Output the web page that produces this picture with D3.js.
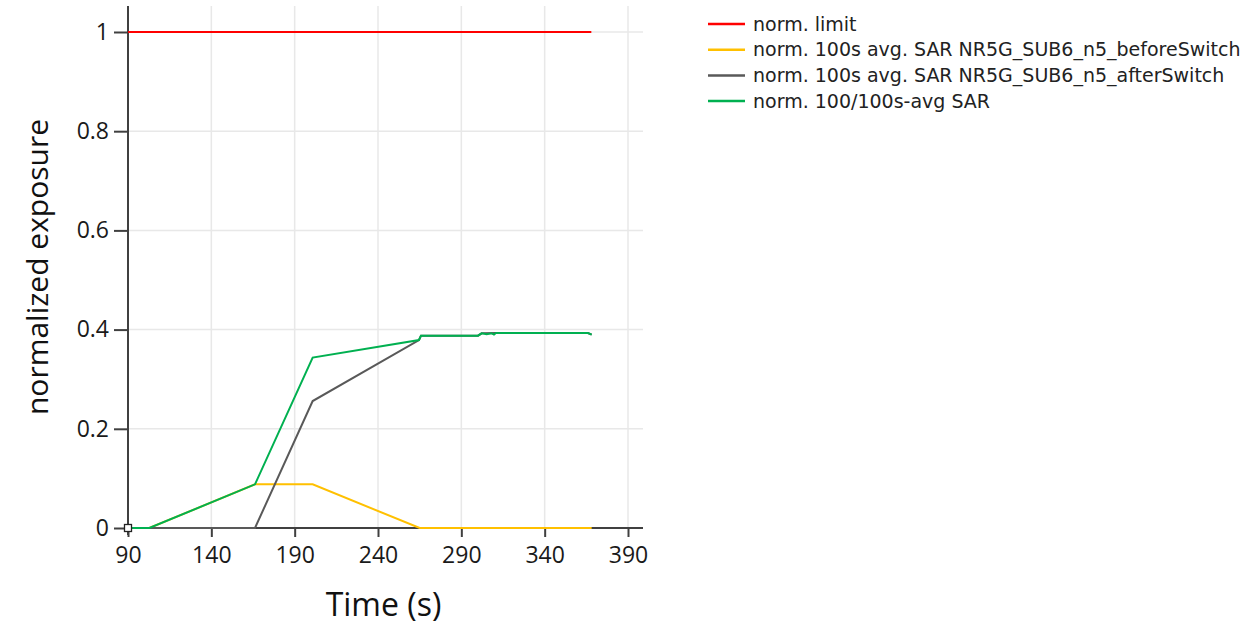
<!DOCTYPE html>
<html>
<head>
<meta charset="utf-8">
<script src="https://cdn.jsdelivr.net/npm/d3@7"></script>
<style>
  html, body { margin: 0; padding: 0; background: #ffffff; }
  svg { display: block; }
</style>
</head>
<body>
<svg id="chart" width="1256" height="628"></svg>
<script>
// Time axis (s) and normalized exposure values per series
const limitTime = [90, 368];
const limitVal  = [1, 1];

const beforeTime = [90, 102.8, 166.2, 200.8, 265.0, 368.2];
const beforeVal  = [0, 0, 0.088, 0.088, 0, 0];

const afterTime = [90, 166.2, 200.8, 264.6, 265.8, 300.0, 302.2, 310.8, 366.0, 368.2];
const afterVal  = [0, 0, 0.256, 0.379, 0.3877, 0.3877, 0.3925, 0.393, 0.393, 0.390];

const totalTime = [90, 102.8, 166.2, 200.8, 264.6, 265.8, 300.0, 302.2, 305.2, 308.2, 309.6, 310.8, 366.0, 368.2];
const totalVal  = [0, 0, 0.088, 0.3435, 0.379, 0.3877, 0.3877, 0.3925, 0.3905, 0.3925, 0.390, 0.393, 0.393, 0.390];

const xTicks = [90, 140, 190, 240, 290, 340, 390];
const yTicks = [0, 0.2, 0.4, 0.6, 0.8, 1];

const seriesNames = [
  "norm. limit",
  "norm. 100s avg. SAR NR5G_SUB6_n5_beforeSwitch",
  "norm. 100s avg. SAR NR5G_SUB6_n5_afterSwitch",
  "norm. 100/100s-avg SAR"
];
const seriesColors = ["#ff0000", "#ffc000", "#595959", "#00b050"];

const series = [
  { t: limitTime, v: limitVal },
  { t: beforeTime, v: beforeVal },
  { t: afterTime, v: afterVal },
  { t: totalTime, v: totalVal }
].map((s, i) => ({
  name: seriesNames[i],
  color: seriesColors[i],
  points: s.t.map((t, j) => [t, s.v[j]])
}));

const svg = d3.select("#chart");
const plot = { left: 128, right: 643, top: 6, bottom: 528 };

const x = d3.scaleLinear().domain([90, 399]).range([plot.left, plot.right]);
const y = d3.scaleLinear().domain([0, 1.0524]).range([plot.bottom, plot.top]);

const axisFont = "'Open Sans', 'Segoe UI', sans-serif";

// grid
const grid = svg.append("g");
grid.selectAll("line.vg").data(xTicks.slice(1)).join("line")
  .attr("x1", d => x(d)).attr("x2", d => x(d))
  .attr("y1", plot.top).attr("y2", plot.bottom)
  .attr("stroke", "#e8e8e8").attr("stroke-width", 1.5);
grid.selectAll("line.hg").data(yTicks.slice(1)).join("line")
  .attr("x1", plot.left).attr("x2", plot.right)
  .attr("y1", d => y(d)).attr("y2", d => y(d))
  .attr("stroke", "#e8e8e8").attr("stroke-width", 1.5);

// axes
const xAxis = d3.axisBottom(x).tickValues(xTicks).tickSize(9).tickPadding(10).tickFormat(d3.format("d"));
const yAxis = d3.axisLeft(y).tickValues(yTicks).tickSize(14).tickPadding(5).tickFormat(d => d === 0 || d === 1 ? String(d) : d3.format(".1f")(d));

const gx = svg.append("g").attr("transform", `translate(0,${plot.bottom})`).call(xAxis);
gx.select(".domain").attr("d", `M${plot.left},0H${plot.right}`);
const gy = svg.append("g").attr("transform", `translate(${plot.left},0)`).call(yAxis);
gy.select(".domain").attr("d", `M0,${plot.top}V${plot.bottom + 7}`);

[gx, gy].forEach(g => {
  g.select(".domain").attr("stroke", "#404040").attr("stroke-width", 2);
  g.selectAll(".tick line").attr("stroke", "#404040").attr("stroke-width", 2);
  g.selectAll(".tick text").attr("fill", "#1a1a1a").style("font-family", axisFont).style("font-size", "23px");
});

// series lines
const line = d3.line().x(d => x(d[0])).y(d => y(d[1]));
svg.append("g").selectAll("path").data(series).join("path")
  .attr("d", d => line(d.points))
  .attr("fill", "none")
  .attr("stroke", d => d.color)
  .attr("stroke-width", 2);

// start marker at the origin
svg.append("rect")
  .attr("x", x(90) - 3.5).attr("y", y(0) - 3.5)
  .attr("width", 7).attr("height", 7)
  .attr("fill", "#fff").attr("stroke", "#222").attr("stroke-width", 1.3);

// axis titles
svg.append("text")
  .attr("x", (plot.left + plot.right) / 2 - 2).attr("y", 616)
  .attr("text-anchor", "middle")
  .style("font-family", axisFont).style("font-size", "32px").attr("fill", "#111")
  .text("Time (s)");
svg.append("text")
  .attr("transform", `translate(48,${(plot.top + plot.bottom) / 2}) rotate(-90)`)
  .attr("text-anchor", "middle")
  .style("font-family", axisFont).style("font-size", "30px").attr("fill", "#111")
  .text("normalized exposure");

// legend
const legend = svg.append("g").attr("transform", "translate(708,24)");
const rows = legend.selectAll("g").data(series).join("g")
  .attr("transform", (d, i) => `translate(0,${i * 25.7})`);
rows.append("line").attr("x1", 0).attr("x2", 37).attr("y1", 0).attr("y2", 0)
  .attr("stroke", d => d.color).attr("stroke-width", 2.5);
rows.append("text").attr("x", 45).attr("y", 0).attr("dy", "0.35em")
  .style("font-family", "'DejaVu Sans', Verdana, sans-serif").style("font-size", "19px").attr("fill", "#222")
  .text(d => d.name);
</script>
</body>
</html>
